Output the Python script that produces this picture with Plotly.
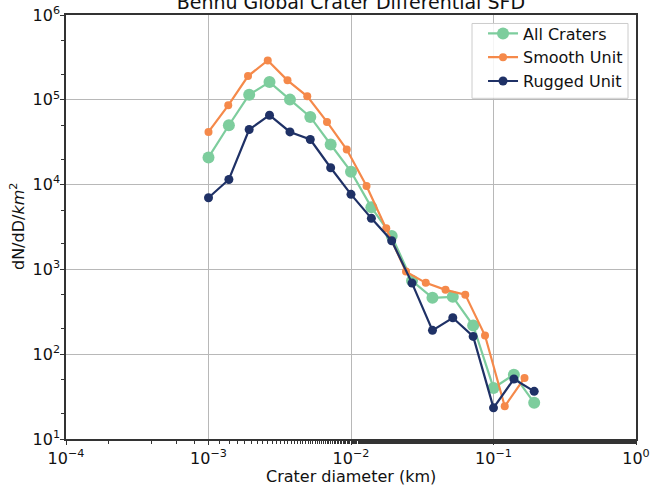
import plotly.graph_objects as go

# Crater diameter bin centres (km)
diam_all = [0.001, 0.00139, 0.00193, 0.00268, 0.00373, 0.00518, 0.00720, 0.0100,
            0.0139, 0.0193, 0.0268, 0.0373, 0.0518, 0.0720, 0.100, 0.139, 0.193]
diam_smooth = [0.001, 0.001376, 0.001894, 0.002605, 0.003584, 0.004932, 0.006786, 0.009338,
               0.01285, 0.01768, 0.02432, 0.03347, 0.04605, 0.06336, 0.08718, 0.1199, 0.1651]
diam_rugged = diam_all

# Differential crater densities dN/dD per km^2
sfd_all = [20900, 50100, 115000, 161800, 100500, 62800, 29700, 14200,
           5400, 2480, 733, 462, 475, 218, 40, 57.4, 26.7]
sfd_smooth = [41800, 86100, 190500, 291600, 169500, 109900, 54800, 25900,
              9600, 3050, 942, 694, 574, 504, 166, 24.3, 52.5]
sfd_rugged = [7000, 11500, 44600, 65800, 41800, 34000, 15800, 7670,
              4000, 2180, 689, 191, 269, 162, 23.3, 51, 36.5]

series_names = ["All Craters", "Smooth Unit", "Rugged Unit"]
colors = ["#7dcd9d", "#f5894a", "#1f3166"]

FONT = "DejaVu Sans"

fig = go.Figure()
for name, xs, ys, col, msize in [
    (series_names[0], diam_all, sfd_all, colors[0], 12),
    (series_names[1], diam_smooth, sfd_smooth, colors[1], 8),
    (series_names[2], diam_rugged, sfd_rugged, colors[2], 9),
]:
    fig.add_trace(go.Scatter(
        x=xs, y=ys, name=name, mode="lines+markers",
        line=dict(color=col, width=2.2),
        marker=dict(color=col, size=msize),
    ))

x_tickvals = [1e-4, 1e-3, 1e-2, 1e-1, 1e0]
x_ticktext = ["10<sup>−4</sup>", "10<sup>−3</sup>", "10<sup>−2</sup>", "10<sup>−1</sup>", "10<sup>0</sup>"]
y_tickvals = [1e1, 1e2, 1e3, 1e4, 1e5, 1e6]
y_ticktext = ["10<sup>1</sup>", "10<sup>2</sup>", "10<sup>3</sup>", "10<sup>4</sup>", "10<sup>5</sup>", "10<sup>6</sup>"]

axis_common = dict(
    type="log", automargin=False,
    showline=True, linecolor="#333333", linewidth=1.5, mirror=True,
    ticks="outside", ticklen=4, tickwidth=1, tickcolor="#333333",
    showgrid=True, gridcolor="#b8b8b8", gridwidth=1.2,
    zeroline=False,
    tickfont=dict(family=FONT, size=16, color="#111111"),
    minor=dict(ticks="outside", ticklen=3, tickwidth=0.8, tickcolor="#333333", showgrid=False),
)

fig.update_xaxes(range=[-4, 0], tickvals=x_tickvals, ticktext=x_ticktext, **axis_common)
fig.update_yaxes(range=[1, 6], tickvals=y_tickvals, ticktext=y_ticktext,
                 ticklabelstandoff=-3, **axis_common)

# Legend frame (drawn as a shape so the box can be sized independently of the entries)
plot_l, plot_r, plot_t, plot_b = 66, 636, 14.5, 439.5
def px_x(v):
    return (v - plot_l) / (plot_r - plot_l)
def px_y(v):
    return 1 - (v - plot_t) / (plot_b - plot_t)

fig.add_shape(type="rect", xref="paper", yref="paper", layer="above",
              x0=px_x(472), x1=px_x(628), y0=px_y(98), y1=px_y(23),
              fillcolor="rgba(255,255,255,0.85)", line=dict(color="#cccccc", width=1))

fig.update_layout(
    width=651, height=486,
    margin=dict(l=66, r=15, t=14.5, b=46.5),
    plot_bgcolor="white", paper_bgcolor="white",
    font=dict(family=FONT, color="#111111"),
    title=dict(text="Bennu Global Crater Differential SFD", x=0.539, xanchor="center",
               yref="container", y=0.996, yanchor="middle",
               font=dict(family=FONT, size=19, color="#111111")),
    legend=dict(x=0.986, y=0.9965, xanchor="right", yanchor="top",
                bgcolor="rgba(0,0,0,0)", borderwidth=0,
                font=dict(family=FONT, size=16, color="#111111"),
                tracegroupgap=0, itemwidth=30),
    showlegend=True,
    annotations=[
        dict(text="Crater diameter (km)", xref="paper", yref="paper", x=0.5, y=0,
             yshift=-37, xanchor="center", yanchor="middle", showarrow=False,
             font=dict(family=FONT, size=16, color="#111111")),
        dict(text="dN/dD/<i>km</i><sup>2</sup>", xref="paper", yref="paper", x=0, y=0.5,
             xshift=-49, xanchor="center", yanchor="middle", textangle=-90, showarrow=False,
             font=dict(family=FONT, size=16, color="#111111")),
    ],
)

fig.write_html("out.html")
